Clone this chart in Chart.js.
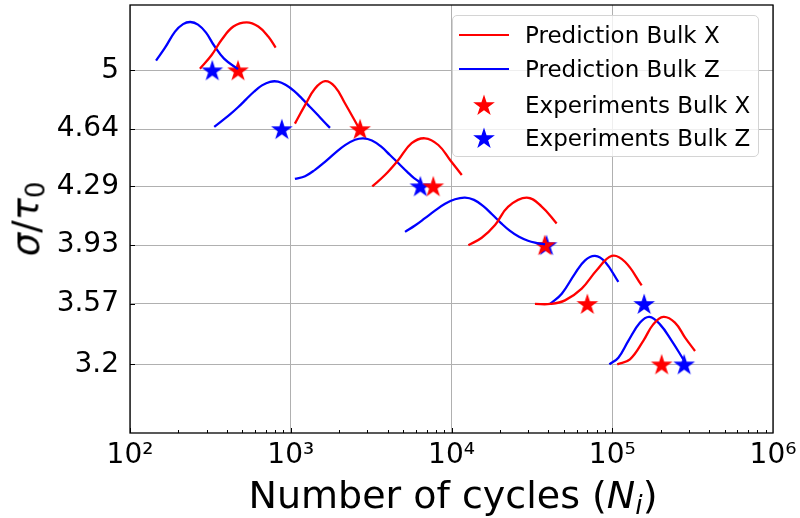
<!DOCTYPE html>
<html>
<head>
<meta charset="utf-8">
<script src="https://cdn.jsdelivr.net/npm/chart.js@4.4.1/dist/chart.umd.min.js"></script>
<style>
  html, body { margin:0; padding:0; background:#fff; }
  #wrap { position:relative; width:800px; height:518px; font-family:"DejaVu Sans", sans-serif; color:#000; }
  #chart { position:absolute; left:0; top:0; }
  .ttl { position:absolute; white-space:nowrap; font-size:38px; line-height:1; }
  .ttl .sub { font-size:0.7em; position:relative; top:0.22em; }
  #ytitle { left:26px; top:219px; transform:translate(-50%,-50%) rotate(-90deg); font-size:37px; }
  #xtitle { left:453px; top:495px; transform:translate(-50%,-50%); }
  #legend { position:absolute; left:452px; top:15px; width:307px; height:142px; box-sizing:border-box;
            border:1px solid #d4d4d4; border-radius:5px; background:rgba(255,255,255,0.8); }
  .lrow { position:absolute; left:0; height:0; }
  .lrow .txt { position:absolute; left:72px; top:0; transform:translateY(-50%); font-size:23px; line-height:1; white-space:nowrap; }
  .lrow .ln { position:absolute; left:6px; width:50px; top:-1px; height:2.3px; }
  .lrow canvas { position:absolute; left:18px; top:-13px; }
</style>
</head>
<body>
<div id="wrap">
  <canvas id="chart" width="800" height="518"></canvas>
  <div class="ttl" id="ytitle"><i>σ</i>/<i>τ</i><span class="sub">0</span></div>
  <div class="ttl" id="xtitle">Number of cycles (<i>N</i><span class="sub"><i>i</i></span>)</div>
  <div id="legend"></div>
</div>
<script>
// stress levels (sigma / tau0), top to bottom
const levels = [5, 4.64, 4.29, 3.93, 3.57, 3.2];
const xTicks = [1e2, 1e3, 1e4, 1e5, 1e6];

// predicted life distributions, Bulk X : log10(N) and density height above each level
const predXLogN = [
  [2.435, 2.508, 2.570, 2.643, 2.726, 2.798, 2.860, 2.906],
  [3.026, 3.089, 3.151, 3.213, 3.275, 3.338, 3.420],
  [3.507, 3.586, 3.669, 3.752, 3.835, 3.918, 3.991, 4.064],
  [4.105, 4.188, 4.271, 4.353, 4.468, 4.561, 4.654],
  [4.519, 4.613, 4.706, 4.810, 4.903, 4.997, 5.079, 5.183],
  [5.031, 5.110, 5.193, 5.255, 5.318, 5.390, 5.453, 5.515]
];
const predXDens = [
  [0.010, 0.094, 0.187, 0.268, 0.294, 0.268, 0.207, 0.139],
  [0.034, 0.147, 0.249, 0.294, 0.260, 0.157, 0.014],
  [0.000, 0.069, 0.161, 0.264, 0.294, 0.253, 0.161, 0.069],
  [0.000, 0.045, 0.123, 0.236, 0.291, 0.236, 0.133],
  [0.000, 0.000, 0.022, 0.094, 0.206, 0.294, 0.258, 0.114],
  [0.000, 0.031, 0.144, 0.245, 0.291, 0.256, 0.164, 0.082]
];

// predicted life distributions, Bulk Z
const predZLogN = [
  [2.162, 2.218, 2.280, 2.330, 2.376, 2.423, 2.473, 2.523, 2.585, 2.672],
  [2.524, 2.572, 2.622, 2.672, 2.722, 2.771, 2.821, 2.871, 2.921, 2.970, 3.020, 3.070, 3.120, 3.170, 3.207, 3.244],
  [3.026, 3.089, 3.151, 3.213, 3.275, 3.338, 3.400, 3.451, 3.505, 3.561, 3.617, 3.673, 3.723, 3.767, 3.815],
  [3.711, 3.773, 3.835, 3.897, 3.960, 4.022, 4.084, 4.140, 4.196, 4.252, 4.308, 4.364, 4.420, 4.476, 4.532, 4.582],
  [4.613, 4.686, 4.768, 4.831, 4.893, 4.955, 5.038],
  [4.982, 5.038, 5.100, 5.173, 5.231, 5.297, 5.370, 5.442]
];
const predZDens = [
  [0.060, 0.139, 0.237, 0.283, 0.296, 0.280, 0.231, 0.152, 0.072, 0.007],
  [0.014, 0.051, 0.090, 0.134, 0.182, 0.229, 0.268, 0.290, 0.291, 0.270, 0.234, 0.187, 0.136, 0.085, 0.045, 0.008],
  [0.045, 0.062, 0.101, 0.150, 0.203, 0.252, 0.285, 0.294, 0.281, 0.244, 0.192, 0.138, 0.090, 0.050, 0.018],
  [0.081, 0.120, 0.165, 0.211, 0.253, 0.281, 0.291, 0.277, 0.240, 0.189, 0.135, 0.087, 0.051, 0.027, 0.013, 0.004],
  [0.000, 0.063, 0.186, 0.267, 0.294, 0.258, 0.135],
  [0.000, 0.041, 0.144, 0.256, 0.291, 0.245, 0.144, 0.031]
];

// experiments (cycles to failure) at each level
const expXCycles = [470, 2700, 7700, 38000, 70000, 203000];
const expZCycles = [325, 880, 6400, 39000, 158000, 280000];

const RED = "#ff0000", BLUE = "#0000ff";

function joinCurves(logNs, dens){
  let pts = [];
  logNs.forEach((arr, k) => {
    arr.forEach((v, i) => pts.push({x: 10 ** v, y: levels[k] + dens[k][i]}));
    pts.push({x: 10 ** arr[arr.length - 1], y: null}); // break between levels
  });
  return pts;
}

function makeStar(color){
  let c = document.createElement("canvas");
  c.width = 26; c.height = 26;
  let g = c.getContext("2d");
  let R = 11.4, r = R * 0.381966;
  g.beginPath();
  for(let i=0;i<10;i++){
    let a = -Math.PI/2 + i*Math.PI/5, rad = (i%2) ? r : R;
    g.lineTo(13 + rad*Math.cos(a), 13.8 + rad*Math.sin(a));
  }
  g.closePath();
  g.fillStyle = color; g.fill();
  return c;
}
const starRed = makeStar(RED), starBlue = makeStar(BLUE);

const sup = {2:"²",3:"³",4:"⁴",5:"⁵",6:"⁶"};

// inward ticks + frame like matplotlib
const frameTicks = {
  id: "frameTicks",
  afterDatasetsDraw(chart){
    const {ctx, chartArea: a, scales: {x, y}} = chart;
    ctx.save();
    ctx.strokeStyle = "#000";
    ctx.lineWidth = 1;
    ctx.beginPath();
    for(let d=2; d<6; d++){
      for(let m=1; m<10; m++){
        let px = Math.round(x.getPixelForValue(m * 10 ** d)) + 0.5;
        let len = m === 1 ? 5 : 3;
        ctx.moveTo(px, a.bottom); ctx.lineTo(px, a.bottom - len);
      }
    }
    levels.forEach(v => {
      let py = Math.round(y.getPixelForValue(v)) + 0.5;
      ctx.moveTo(a.left, py); ctx.lineTo(a.left + 5, py);
    });
    ctx.stroke();
    ctx.lineWidth = 1.3;
    ctx.strokeRect(a.left, a.top, a.right - a.left, a.bottom - a.top);
    ctx.restore();
  }
};

Chart.defaults.font.family = "'DejaVu Sans', sans-serif";
Chart.defaults.color = "#000";

const chart = new Chart(document.getElementById("chart"), {
  type: "line",
  data: {
    datasets: [
      {type:"line", label:"Prediction Bulk X", data: joinCurves(predXLogN, predXDens),
       borderColor: RED, borderWidth: 2.3, pointRadius: 0, tension: 0.4, fill: false},
      {type:"line", label:"Prediction Bulk Z", data: joinCurves(predZLogN, predZDens),
       borderColor: BLUE, borderWidth: 2.3, pointRadius: 0, tension: 0.4, fill: false},
      {type:"scatter", label:"Experiments Bulk X", data: expXCycles.map((v,i)=>({x:v, y:levels[i]})),
       pointStyle: starRed, backgroundColor: RED, borderColor: RED},
      {type:"scatter", label:"Experiments Bulk Z", data: expZCycles.map((v,i)=>({x:v, y:levels[i]})),
       pointStyle: starBlue, backgroundColor: BLUE, borderColor: BLUE}
    ]
  },
  options: {
    responsive: false,
    animation: false,
    devicePixelRatio: 1,
    layout: {padding: {left: 0, right: 27, top: 5, bottom: 0}},
    plugins: {legend: {display: false}, tooltip: {enabled: false}},
    scales: {
      x: {
        type: "logarithmic", min: 1e2, max: 1e6,
        afterBuildTicks: s => { s.ticks = xTicks.map(v => ({value: v})); },
        afterFit: s => { s.height = 85; s.paddingLeft = 0; s.paddingRight = 0; },
        ticks: {autoSkip: false, maxRotation: 0, padding: 6, font: {size: 28},
                callback: v => "10" + sup[Math.round(Math.log10(v))]},
        grid: {color: "#b0b0b0", lineWidth: 1, drawTicks: false},
        border: {display: false}
      },
      y: {
        type: "linear", min: 2.78, max: 5.4,
        afterBuildTicks: s => { s.ticks = levels.map(v => ({value: v})); },
        afterFit: s => { s.width = 130; s.paddingTop = 0; s.paddingBottom = 0; },
        ticks: {autoSkip: false, padding: 11, font: {size: 28}, callback: v => String(v)},
        grid: {color: "#b0b0b0", lineWidth: 1, drawTicks: false},
        border: {display: false}
      }
    }
  },
  plugins: [frameTicks]
});

// legend built from the datasets
const legend = document.getElementById("legend");
const rowY = [18.5, 53, 88.5, 122];
chart.data.datasets.forEach((ds, i) => {
  let row = document.createElement("div");
  row.className = "lrow";
  row.style.top = rowY[i] + "px";
  if(ds.type === "line"){
    let ln = document.createElement("div");
    ln.className = "ln"; ln.style.background = ds.borderColor;
    row.appendChild(ln);
  } else {
    let c = document.createElement("canvas");
    c.width = 26; c.height = 26;
    c.getContext("2d").drawImage(ds.pointStyle, 0, 0);
    row.appendChild(c);
  }
  let t = document.createElement("div");
  t.className = "txt"; t.textContent = ds.label;
  row.appendChild(t);
  legend.appendChild(row);
});
</script>
</body>
</html>
